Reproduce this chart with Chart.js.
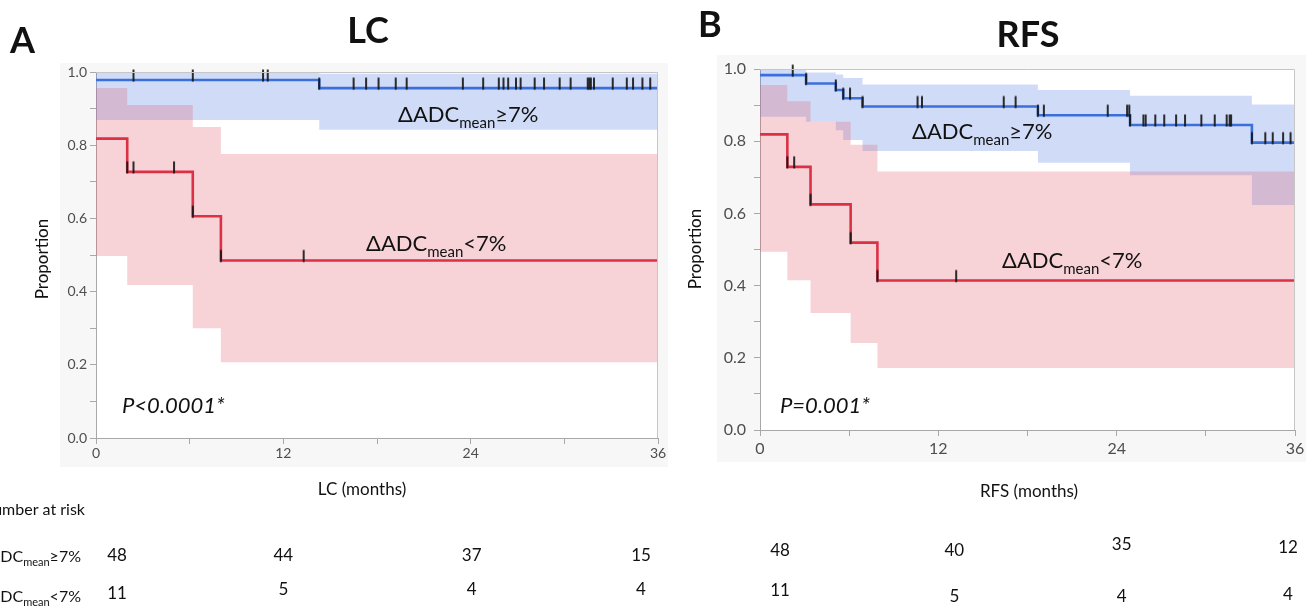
<!DOCTYPE html>
<html>
<head>
<meta charset="utf-8">
<script src="https://cdn.jsdelivr.net/npm/chart.js@4"></script>
<style>
  body { margin: 0; background: #fff; width: 1306px; height: 606px; overflow: hidden; position: relative; }
  canvas { position: absolute; top: 0; }
</style>
</head>
<body>
<canvas id="lc" width="680" height="606" style="left:0px"></canvas>
<canvas id="rfs" width="626" height="606" style="left:680px"></canvas>
<script>
// ---- data ----
const riskTimes = [0, 12, 24, 36];

// LC, ΔADCmean ≥7%
const lcHiTime  = [0, 14.3, 36];
const lcHiSurv  = [0.978, 0.956, 0.956];
const lcHiUpper = [1.0, 0.995, 0.995];
const lcHiLower = [0.869, 0.842, 0.842];
const lcHiCensor = [2.4, 6.2, 10.7, 11.0, 14.3, 16.5, 17.3, 18.1, 19.2, 19.9, 23.5, 24.8, 25.8, 26.1,
  26.4, 26.9, 27.2, 28.1, 28.7, 29.7, 30.4, 31.5, 31.6, 31.7, 31.9, 33.1, 34.0, 34.4, 35.0, 35.5];
// LC, ΔADCmean <7%
const lcLoTime  = [0, 2.0, 6.2, 8.0, 36];
const lcLoSurv  = [0.818, 0.727, 0.606, 0.485, 0.485];
const lcLoUpper = [0.956, 0.91, 0.85, 0.776, 0.776];
const lcLoLower = [0.497, 0.418, 0.30, 0.207, 0.207];
const lcLoCensor = [2.0, 2.4, 5.0, 6.2, 8.0, 13.3];
const lcRiskHi = [48, 44, 37, 15];
const lcRiskLo = [11, 5, 4, 4];

// RFS, ΔADCmean ≥7%
const rfsHiTime  = [0, 3.1, 5.1, 5.6, 6.9, 18.7, 24.9, 33.1, 36];
const rfsHiSurv  = [0.983, 0.960, 0.942, 0.919, 0.896, 0.872, 0.845, 0.796, 0.796];
const rfsHiUpper = [1.0, 0.99, 0.985, 0.975, 0.957, 0.942, 0.926, 0.902, 0.902];
const rfsHiLower = [0.868, 0.854, 0.83, 0.803, 0.773, 0.740, 0.706, 0.623, 0.623];
const rfsHiCensor = [2.2, 3.1, 5.1, 5.6, 6.06, 6.9, 10.6, 10.9, 16.4, 17.2, 18.7, 19.1, 23.4, 24.7,
  24.85, 24.9, 25.8, 25.95, 26.6, 27.2, 28.0, 28.6, 29.7, 30.6, 31.4, 31.6, 31.7, 33.1, 34.0, 34.5, 35.2, 35.7];
// RFS, ΔADCmean <7%
const rfsLoTime  = [0, 1.84, 3.4, 6.1, 7.9, 36];
const rfsLoSurv  = [0.819, 0.729, 0.625, 0.519, 0.414, 0.414];
const rfsLoUpper = [0.956, 0.911, 0.854, 0.79, 0.716, 0.716];
const rfsLoLower = [0.494, 0.415, 0.324, 0.241, 0.172, 0.172];
const rfsLoCensor = [1.84, 2.3, 3.4, 6.1, 7.9, 13.2];
const rfsRiskHi = [48, 40, 35, 12];
const rfsRiskLo = [11, 5, 4, 4];

const FONT = 'Lato, "Open Sans", sans-serif';
const BLUE = '#3b6fdc';
const RED = '#dc3045';

function pts(times, vals) {
  return times.map((t, i) => ({ x: t, y: vals[i] }));
}
// value of the step curve at time t (for placing censor marks on the line)
function survAt(times, surv, t) {
  let v = surv[0];
  for (let i = 0; i < times.length; i++) if (times[i] <= t + 1e-9) v = surv[i];
  return v;
}

// censor mark: short vertical line sitting on top of the curve
const tick = document.createElement('canvas');
tick.width = 4; tick.height = 24;
(function () {
  const g = tick.getContext('2d');
  g.strokeStyle = '#161616'; g.lineWidth = 1.8;
  g.beginPath(); g.moveTo(2, 1.5); g.lineTo(2, 13.5); g.stroke();
})();

function band(times, up, lo, color) {
  return [
    { data: pts(times, up), stepped: 'before', borderWidth: 0, pointRadius: 0, fill: '+1', backgroundColor: color, order: 3 },
    { data: pts(times, lo), stepped: 'before', borderWidth: 0, pointRadius: 0, fill: false, order: 3 }
  ];
}
function curve(times, surv, color) {
  return { data: pts(times, surv), stepped: 'before', borderColor: color, borderWidth: 2.6, pointRadius: 0, fill: false, order: 1 };
}
function censor(times, surv, cens) {
  return { data: cens.map(t => ({ x: t, y: survAt(times, surv, t) })), showLine: false,
    pointStyle: tick, pointRadius: 3, clip: false, order: 0 };
}

function drawDelta(ctx, x, y, rel, size, align) {
  const sub = Math.round(size * 0.68);
  const big = size + 'px ' + FONT, small = sub + 'px ' + FONT;
  ctx.font = big; const w1 = ctx.measureText('ΔADC').width, w3 = ctx.measureText(rel + '7%').width;
  ctx.font = small; const w2 = ctx.measureText('mean').width;
  if (align === 'right') x -= w1 + w2 + w3;
  ctx.textAlign = 'left'; ctx.textBaseline = 'alphabetic';
  ctx.font = big; ctx.fillText('ΔADC', x, y);
  ctx.font = small; ctx.fillText('mean', x + w1, y + size * 0.25);
  ctx.font = big; ctx.fillText(rel + '7%', x + w1 + w2, y);
}

function makeChart(id, cfg) {
  const textPlugin = {
    id: 'kmText',
    beforeDraw(chart) {
      const { ctx, chartArea: a } = chart;
      ctx.save();
      ctx.translate(-cfg.offset, 0);
      ctx.fillStyle = '#f7f7f7';
      ctx.fillRect(cfg.panel[0], cfg.panel[1], cfg.panel[2] - cfg.panel[0], cfg.panel[3] - cfg.panel[1]);
      ctx.restore();
      ctx.fillStyle = '#fff';
      ctx.fillRect(a.left, a.top, a.right - a.left, a.bottom - a.top);
    },
    afterDraw(chart) {
      const { ctx, chartArea: a } = chart;
      const xs = chart.scales.x;
      ctx.save();
      ctx.strokeStyle = '#c6c6c6'; ctx.lineWidth = 1;
      ctx.beginPath();
      ctx.moveTo(a.left, a.top + 0.5); ctx.lineTo(a.right - 0.5, a.top + 0.5); ctx.lineTo(a.right - 0.5, a.bottom);
      ctx.stroke();
      ctx.translate(-cfg.offset, 0);
      ctx.fillStyle = '#111';
      // panel letter and title
      ctx.font = 'bold 36px ' + FONT; ctx.textAlign = 'left'; ctx.textBaseline = 'alphabetic';
      ctx.fillText(cfg.letter[0], cfg.letter[1], cfg.letter[2]);
      ctx.textAlign = 'center';
      ctx.fillText(cfg.title[0], cfg.title[1], cfg.title[2]);
      // group labels
      drawDelta(ctx, cfg.hiLabel[0], cfg.hiLabel[1], '≥', 22);
      drawDelta(ctx, cfg.loLabel[0], cfg.loLabel[1], '<', 22);
      // p value
      ctx.font = 'italic 22px ' + FONT; ctx.textAlign = 'left';
      ctx.fillText(cfg.p[0], cfg.p[1], cfg.p[2]);
      // axis titles
      ctx.font = '17px ' + FONT; ctx.textAlign = 'center'; ctx.textBaseline = 'middle';
      ctx.fillText(cfg.xTitle[0], cfg.xTitle[1], cfg.xTitle[2]);
      ctx.save();
      ctx.translate(cfg.yTitle[0], cfg.yTitle[1]); ctx.rotate(-Math.PI / 2);
      ctx.fillText('Proportion', 0, 0);
      ctx.restore();
      // number at risk
      if (cfg.riskHead) {
        ctx.font = '16px ' + FONT; ctx.textAlign = 'right';
        ctx.fillText('Number at risk', 85, 510);
        ctx.textBaseline = 'alphabetic';
        drawDelta(ctx, 81, 562, '≥', 16, 'right');
        drawDelta(ctx, 81, 602, '<', 16, 'right');
      }
      ctx.font = '17px ' + FONT; ctx.textAlign = 'center'; ctx.textBaseline = 'middle';
      riskTimes.forEach((t, i) => {
        const x = xs.getPixelForValue(t) + cfg.offset + cfg.riskNudge[i];
        ctx.fillText(String(cfg.riskHi[i]), x, cfg.riskY[0][i]);
        ctx.fillText(String(cfg.riskLo[i]), x, cfg.riskY[1][i]);
      });
      ctx.restore();
    }
  };

  return new Chart(document.getElementById(id), {
    type: 'line',
    data: {
      datasets: [
        ...band(cfg.lo.t, cfg.lo.up, cfg.lo.low, 'rgba(226,92,112,0.27)'),
        ...band(cfg.hi.t, cfg.hi.up, cfg.hi.low, 'rgba(100,140,230,0.30)'),
        curve(cfg.lo.t, cfg.lo.s, RED),
        curve(cfg.hi.t, cfg.hi.s, BLUE),
        censor(cfg.lo.t, cfg.lo.s, cfg.lo.c),
        censor(cfg.hi.t, cfg.hi.s, cfg.hi.c)
      ]
    },
    options: {
      responsive: false,
      animation: false,
      devicePixelRatio: 1,
      layout: { padding: cfg.pad },
      plugins: { legend: { display: false }, tooltip: { enabled: false } },
      scales: {
        x: {
          type: 'linear', min: 0, max: 36,
          ticks: { stepSize: 6, autoSkip: false, maxRotation: 0, padding: cfg.xPad,
            color: '#4e4e4e', font: { family: FONT, size: cfg.tickSize },
            callback: v => (v % 12 === 0 ? v : '') },
          grid: { drawOnChartArea: false, tickLength: 6, color: '#a8a8a8' },
          border: { color: '#a8a8a8' },
          afterFit(axis) { axis.height = cfg.xH; axis.paddingLeft = 0; axis.paddingRight = 0; }
        },
        y: {
          min: 0, max: 1,
          ticks: { stepSize: 0.1, autoSkip: false, padding: cfg.yPad,
            color: '#4e4e4e', font: { family: FONT, size: cfg.tickSize },
            callback: v => (Math.round(v * 10) % 2 === 0 ? v.toFixed(1) : '') },
          grid: { drawOnChartArea: false, tickLength: 6, color: '#a8a8a8' },
          border: { color: '#a8a8a8' },
          afterFit(axis) { axis.width = cfg.yW; axis.paddingTop = 0; axis.paddingBottom = 0; }
        }
      }
    },
    plugins: [textPlugin]
  });
}

makeChart('lc', {
  offset: 0,
  pad: { left: 60, top: 72, right: 22, bottom: 139 },
  yW: 36, xH: 29, xPad: 1, yPad: 3, tickSize: 14,
  panel: [60, 63, 668, 467],
  hi: { t: lcHiTime, s: lcHiSurv, up: lcHiUpper, low: lcHiLower, c: lcHiCensor },
  lo: { t: lcLoTime, s: lcLoSurv, up: lcLoUpper, low: lcLoLower, c: lcLoCensor },
  letter: ['A', 10, 53], title: ['LC', 368, 43],
  hiLabel: [398, 122], loLabel: [366, 251],
  p: ['P<0.0001*', 122, 413],
  xTitle: ['LC (months)', 362, 490], yTitle: [43, 259],
  riskHead: true,
  riskHi: lcRiskHi, riskLo: lcRiskLo,
  riskNudge: [21, 0, 1, -17],
  riskY: [[556, 556, 556, 556], [594, 590, 590, 590]]
});

makeChart('rfs', {
  offset: 680,
  pad: { left: 37, top: 69, right: 11, bottom: 144 },
  yW: 43, xH: 32, xPad: 3, yPad: 8, tickSize: 16,
  panel: [717, 55, 1306, 462],
  hi: { t: rfsHiTime, s: rfsHiSurv, up: rfsHiUpper, low: rfsHiLower, c: rfsHiCensor },
  lo: { t: rfsLoTime, s: rfsLoSurv, up: rfsLoUpper, low: rfsLoLower, c: rfsLoCensor },
  letter: ['B', 698, 37], title: ['RFS', 1028, 47],
  hiLabel: [912, 139], loLabel: [1002, 268],
  p: ['P=0.001*', 780, 413],
  xTitle: ['RFS (months)', 1029, 492], yTitle: [696, 249],
  riskHead: false,
  riskHi: rfsRiskHi, riskLo: rfsRiskLo,
  riskNudge: [20, 16, 5, -7],
  riskY: [[551, 551, 545, 548], [591, 597, 597, 595]]
});
</script>
</body>
</html>
